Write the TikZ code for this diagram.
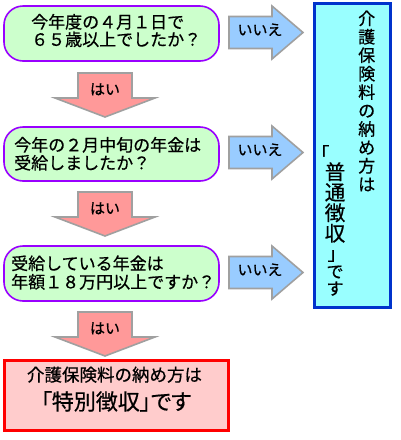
\documentclass[tikz,border=0pt]{standalone}
\usepackage{fontspec}
\setmainfont{Noto Sans CJK JP}[FakeBold=0.6]
\newfontfamily\jpprop{Noto Sans CJK JP}[FakeBold=0.6, RawFeature=+palt]
\definecolor{qfill}{HTML}{CCFFCC}
\definecolor{qdraw}{HTML}{9900FF}
\definecolor{nofill}{HTML}{99CCFF}
\definecolor{arrdraw}{HTML}{A0A0A0}
\definecolor{yesfill}{HTML}{FF9999}
\definecolor{ordfill}{HTML}{99FFFF}
\definecolor{orddraw}{HTML}{0033CC}
\definecolor{spfill}{HTML}{FFCCCC}
\definecolor{spdraw}{HTML}{FF0000}
\tikzset{
  qbox/.style={draw=qdraw, fill=qfill, line width=1.6pt, rounded corners=19pt, minimum width=215pt, inner sep=0pt},
  txt/.style={inner sep=0pt, text height=0.88em, text depth=0.12em},
  qtext/.style={txt, anchor=west, font=\fontsize{17}{18}\selectfont},
  lbl/.style={txt, font=\fontsize{15}{16}\selectfont},
  vA/.style={txt, font=\fontsize{17}{18}\selectfont},
  vB/.style={txt, font=\fontsize{20.5}{22}\selectfont},
  vBr/.style={txt, font=\fontsize{18}{19}\selectfont},
  vS/.style={txt, font=\fontsize{17}{18}\selectfont},
  arrstyle/.style={draw=arrdraw, line width=1.6pt, line join=miter},
  pics/rarrow/.style={code={
    \draw[arrstyle, fill=nofill] (0,-16)--(43,-16)--(43,-26.5)--(74,0)--(43,26.5)--(43,16)--(0,16)--cycle;}},
  pics/darrow/.style={code={
    \draw[arrstyle, fill=yesfill] (-27,0)--(27,0)--(27,25)--(50,25)--(0,44)--(-50,25)--(-27,25)--cycle;}},
}
\begin{document}
\begin{tikzpicture}[x=1pt,y=-1pt]
\useasboundingbox (0,0) rectangle (400,440);
\fill[white] (0,0) rectangle (400,440);
% question boxes
\node[qbox, minimum height=55pt] (q1) at (111.5,33.5) {};
\node[qbox, minimum height=54pt] (q2) at (111.5,154) {};
\node[qbox, minimum height=55pt] (q3) at (111.5,273.5) {};
\node[qtext] (q1a) at (31,24.5) {今年度の４月１日で};
\node[qtext] (q1b) at (31,42) {６５歳以上でしたか？};
\node[qtext] (q2a) at (14,147.5) {今年の２月中旬の年金は};
\node[qtext] (q2b) at (14,165.5) {受給しましたか？};
\node[qtext] (q3a) at (11,266) {受給している年金は};
\node[qtext] (q3b) at (11,284.5) {年額１８万円以上ですか？};
% result boxes
\draw[draw=orddraw, fill=ordfill, line width=3pt] (314.8,3) rectangle (390.2,307.5);
\foreach \c [count=\i from 0] in {介,護,保,険,料,の,納,め,方,は}
  \node[vA] (ordA\i) at (366.7,{21+18.44*\i}) {\c};
\node[vBr] (ordB0) at (320.5,156.5) {「};
\foreach \c [count=\i from 0] in {普,通,徴,収}
  \node[vB] (ordK\i) at (335,{175.75+20.5*\i}) {\c};
\node[vBr] (ordB1) at (336.5,256.5) {」};
\node[vS] (ordB2) at (335,274) {で};
\node[vS] (ordB3) at (335,291) {す};
\draw[draw=spdraw, fill=spfill, line width=3pt] (4.5,360.5) rectangle (228.5,430.5);
\node[txt, font=\fontsize{17.5}{18}\selectfont] (spA) at (114.5,377.5) {介護保険料の納め方は};
\node[txt, font=\jpprop\fontsize{22}{23}\selectfont] (spB) at (116,406) {「特別徴収」です};
% no arrows
\pic at (229,32.5) {rarrow};
\pic at (229,152.5) {rarrow};
\pic at (229,272.5) {rarrow};
\node[lbl] (n1) at (260,31.5) {いいえ};
\node[lbl] (n2) at (260,151.5) {いいえ};
\node[lbl] (n3) at (260,271.5) {いいえ};
% yes arrows
\pic at (105,73) {darrow};
\pic at (105,192) {darrow};
\pic at (105,312) {darrow};
\node[lbl] (y1) at (105,91) {はい};
\node[lbl] (y2) at (105,210) {はい};
\node[lbl] (y3) at (105,330) {はい};
\end{tikzpicture}
\end{document}
